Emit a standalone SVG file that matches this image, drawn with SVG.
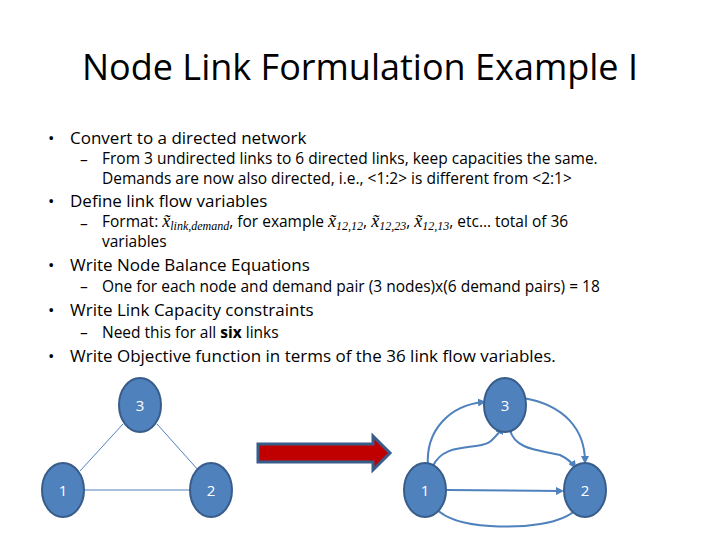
<svg xmlns="http://www.w3.org/2000/svg" width="720" height="540" viewBox="0 0 720 540">
<style>
text{font-family:"Open Sans","Liberation Sans",sans-serif;fill:#000}
.b{font-size:17px}.s{font-size:15.5px}
.n{fill:#4f81bd;stroke:#385d8a;stroke-width:2}
.nl{fill:#fff;font-size:15px;text-anchor:middle}
.e{fill:none;stroke:#4f81bd;stroke-width:2}
.t{fill:none;stroke:#4f81bd;stroke-width:1}
.m{font-family:"Liberation Serif",serif;font-style:italic}
</style>
<defs><marker id="a" markerWidth="4" markerHeight="4" refX="3" refY="2" orient="auto"><path d="M0,0L4,2L0,4z" fill="#4f81bd"/></marker></defs>
<rect width="720" height="540" fill="#fff"/>
<text x="360" y="80" font-size="36" text-anchor="middle">Node Link Formulation Example I</text>
<g class="b">
<text x="48" y="144">•</text><text x="70" y="144">Convert to a directed network</text>
<text x="48" y="207">•</text><text x="70" y="207">Define link flow variables</text>
<text x="48" y="271">•</text><text x="70" y="271">Write Node Balance Equations</text>
<text x="48" y="316">•</text><text x="70" y="316">Write Link Capacity constraints</text>
<text x="48" y="362">•</text><text x="70" y="362">Write Objective function in terms of the 36 link flow variables.</text>
</g>
<g class="s">
<text x="80" y="165">–</text><text x="102" y="164">From 3 undirected links to 6 directed links, keep capacities the same.</text>
<text x="102" y="184">Demands are now also directed, i.e.,  &lt;1:2&gt; is different from &lt;2:1&gt;</text>
<text x="80" y="229">–</text><text x="102" y="227">Format: <tspan class="m" font-size="18">x̃</tspan><tspan class="m" font-size="12" dy="3">link,demand</tspan><tspan dy="-3">, for example </tspan><tspan class="m" font-size="18">x̃</tspan><tspan class="m" font-size="12" dy="3">12,12</tspan><tspan dy="-3">, </tspan><tspan class="m" font-size="18">x̃</tspan><tspan class="m" font-size="12" dy="3">12,23</tspan><tspan dy="-3">, </tspan><tspan class="m" font-size="18">x̃</tspan><tspan class="m" font-size="12" dy="3">12,13</tspan><tspan dy="-3">, etc… total of 36</tspan></text>
<text x="102" y="247">variables</text>
<text x="80" y="292">–</text><text x="102" y="292">One for each node and demand pair (3 nodes)x(6 demand pairs) = 18</text>
<text x="80" y="338">–</text><text x="102" y="338">Need this for all <tspan font-weight="bold">six</tspan> links</text>
</g>
<g id="connectors">
<line class="t" x1="80" y1="471" x2="123" y2="424"/>
<line class="t" x1="157" y1="424" x2="199" y2="471"/>
<line class="t" x1="85" y1="490" x2="189" y2="490"/>
<path class="e" d="M428,467 C425,430 450,405 484,402" marker-end="url(#a)"/>
<path class="e" d="M433,466 C445,440 480,452 492,440 C500,432 502,428 502,428" marker-end="url(#a)"/>
<path class="e" d="M510,430 C515,450 540,450 560,455 C570,460 573,464 575,467" marker-end="url(#a)"/>
<path class="e" d="M523,398 C565,405 585,430 585,462" marker-end="url(#a)"/>
<path class="e" d="M447,490 L562,491" marker-end="url(#a)"/>
<path class="e" d="M578,507 C565,525 520,528 490,526 C455,524 440,515 433,505"/>
<path d="M258,444 L373,444 L373,436 L390,453 L373,470 L373,462 L258,462 Z" fill="#c00000" stroke="#385d8a" stroke-width="3"/>
</g>
<g id="n3a"><ellipse class="n" cx="140" cy="405" rx="21" ry="27"/><text class="nl" x="140" y="411">3</text></g>
<g id="n1a"><ellipse class="n" cx="63" cy="490" rx="21" ry="27"/><text class="nl" x="63" y="496">1</text></g>
<g id="n2a"><ellipse class="n" cx="211" cy="490" rx="21" ry="27"/><text class="nl" x="211" y="496">2</text></g>
<g id="n3b"><ellipse class="n" cx="505" cy="405" rx="21" ry="27"/><text class="nl" x="505" y="411">3</text></g>
<g id="n1b"><ellipse class="n" cx="425" cy="490" rx="21" ry="27"/><text class="nl" x="425" y="496">1</text></g>
<g id="n2b"><ellipse class="n" cx="585" cy="490" rx="21" ry="27"/><text class="nl" x="585" y="496">2</text></g>
</svg>
